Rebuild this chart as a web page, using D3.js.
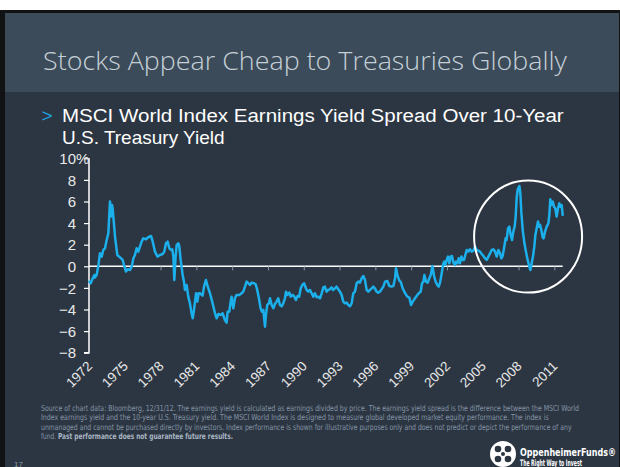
<!DOCTYPE html>
<html><head><meta charset="utf-8">
<script src="https://cdn.jsdelivr.net/npm/d3@7"></script>
<style>html,body{margin:0;padding:0;background:#fff;}svg{display:block;}</style>
</head><body>
<script>
// ---- Data ----
const years = [1972.03,1972.14,1972.31,1972.45,1972.50,1972.64,1972.78,1972.92,1973.06,1973.20,1973.34,1973.48,1973.62,1973.70,1973.76,1973.84,1973.93,1973.98,1974.04,1974.18,1974.37,1974.60,1974.82,1974.93,1975.10,1975.24,1975.44,1975.58,1975.72,1975.85,1975.99,1976.13,1976.27,1976.41,1976.55,1976.78,1976.97,1977.20,1977.34,1977.53,1977.73,1977.95,1978.17,1978.31,1978.45,1978.59,1978.73,1978.87,1978.98,1979.07,1979.15,1979.26,1979.35,1979.49,1979.57,1979.68,1979.85,1979.96,1980.04,1980.18,1980.32,1980.46,1980.60,1980.69,1980.80,1980.97,1981.08,1981.19,1981.30,1981.52,1981.64,1981.80,1981.91,1982.14,1982.36,1982.56,1982.70,1982.84,1983.03,1983.20,1983.39,1983.53,1983.62,1983.76,1983.87,1983.95,1984.09,1984.23,1984.37,1984.60,1984.79,1984.93,1985.07,1985.21,1985.35,1985.49,1985.63,1985.83,1985.96,1986.10,1986.24,1986.38,1986.50,1986.61,1986.75,1986.83,1986.94,1987.08,1987.17,1987.31,1987.45,1987.58,1987.72,1987.86,1988.00,1988.14,1988.28,1988.42,1988.51,1988.62,1988.79,1988.90,1989.07,1989.21,1989.34,1989.48,1989.62,1989.74,1989.88,1990.02,1990.13,1990.24,1990.38,1990.52,1990.66,1990.80,1990.94,1991.08,1991.22,1991.36,1991.50,1991.64,1991.77,1991.91,1992.05,1992.19,1992.33,1992.47,1992.61,1992.75,1992.89,1993.03,1993.17,1993.31,1993.45,1993.59,1993.73,1993.87,1994.01,1994.15,1994.29,1994.43,1994.57,1994.71,1994.85,1994.99,1995.13,1995.27,1995.41,1995.55,1995.69,1995.83,1995.96,1996.10,1996.24,1996.38,1996.67,1996.81,1997.00,1997.17,1997.37,1997.51,1997.65,1997.73,1997.84,1998.01,1998.12,1998.29,1998.49,1998.68,1998.85,1998.99,1999.13,1999.32,1999.52,1999.69,1999.80,1999.91,2000.02,2000.11,2000.24,2000.38,2000.52,2000.64,2000.78,2000.92,2001.05,2001.19,2001.31,2001.42,2001.56,2001.70,2001.78,2001.86,2001.98,2002.09,2002.20,2002.31,2002.42,2002.54,2002.67,2002.76,2002.87,2002.98,2003.09,2003.21,2003.32,2003.43,2003.54,2003.65,2003.79,2003.93,2004.07,2004.21,2004.35,2004.49,2004.63,2004.77,2004.91,2005.05,2005.19,2005.33,2005.47,2005.61,2005.75,2005.89,2006.03,2006.17,2006.31,2006.45,2006.56,2006.67,2006.78,2006.92,2007.00,2007.12,2007.23,2007.34,2007.45,2007.56,2007.67,2007.76,2007.84,2007.93,2008.07,2008.15,2008.23,2008.35,2008.49,2008.62,2008.76,2008.90,2008.99,2009.10,2009.21,2009.32,2009.41,2009.52,2009.63,2009.71,2009.80,2009.91,2010.02,2010.10,2010.22,2010.36,2010.50,2010.58,2010.66,2010.75,2010.86,2010.97,2011.08,2011.19,2011.31,2011.42,2011.50,2011.61,2011.70];
const spread = [-1.42,-1.57,-1.11,-0.80,-1.05,-0.80,0.03,1.20,0.90,1.51,1.67,2.44,3.06,4.75,5.99,4.60,5.68,5.37,4.60,2.75,1.05,0.83,0.59,0.12,-0.49,-0.28,-0.34,-0.03,0.74,1.05,1.67,1.36,1.82,2.28,2.59,2.50,2.69,2.81,2.28,1.36,0.90,1.05,1.14,1.36,2.13,2.28,1.67,1.51,1.57,0.90,-1.27,0.90,1.98,2.13,1.82,0.59,-0.80,-1.42,-2.19,-1.73,-2.81,-3.43,-4.35,-4.81,-4.04,-2.50,-3.27,-2.50,-2.50,-2.72,-1.88,-1.27,-1.73,-2.50,-3.43,-4.35,-4.81,-4.41,-4.50,-4.35,-4.97,-5.22,-4.20,-4.20,-3.27,-2.81,-3.89,-2.96,-2.65,-2.65,-2.50,-2.35,-1.88,-1.42,-1.57,-1.73,-1.51,-1.57,-1.64,-2.19,-2.96,-3.89,-4.20,-4.04,-5.59,-4.50,-3.58,-3.43,-2.96,-3.58,-3.89,-3.49,-3.27,-2.96,-3.58,-3.70,-3.43,-2.96,-2.35,-2.65,-2.44,-2.81,-2.65,-2.81,-3.12,-2.75,-2.81,-2.04,-1.73,-1.57,-1.88,-2.19,-2.35,-2.19,-2.50,-2.81,-2.50,-2.87,-2.81,-2.96,-2.50,-1.95,-1.88,-2.35,-2.19,-2.13,-1.95,-2.19,-2.04,-1.88,-2.13,-2.35,-2.65,-3.27,-3.43,-3.36,-3.58,-3.70,-3.43,-2.50,-2.35,-1.57,-1.42,-1.51,-1.11,-0.90,-1.27,-2.19,-2.35,-2.19,-2.04,-1.88,-2.04,-2.35,-2.44,-2.35,-1.88,-1.42,-1.36,-1.82,-1.88,-1.82,-1.11,-0.19,-0.80,-1.33,-1.42,-2.04,-2.50,-2.81,-2.90,-3.58,-3.27,-2.96,-2.65,-2.44,-2.35,-1.57,-1.42,-0.80,-1.42,-1.51,-1.11,-0.80,0.03,-0.90,-1.42,-1.73,-1.88,-1.51,-0.65,0.28,0.43,0.12,0.59,0.90,0.28,0.90,0.96,0.34,0.12,0.43,0.28,0.74,0.28,0.90,0.59,0.59,1.05,1.51,1.36,1.57,1.36,1.45,1.82,1.51,1.45,1.36,1.14,0.96,0.74,0.59,0.90,1.20,1.51,1.57,1.36,0.90,1.51,1.20,0.74,0.96,1.67,2.59,2.44,3.52,3.67,2.90,2.44,3.21,3.67,4.60,6.30,7.13,7.44,6.76,5.06,3.36,2.13,1.36,0.59,0.00,-0.34,0.28,0.90,1.82,2.90,3.52,4.14,3.67,3.83,3.36,2.69,2.59,3.21,3.67,3.98,4.75,6.20,5.68,5.99,5.52,5.37,4.60,5.37,5.83,5.52,5.68,4.75];
const yTicks = [10, 8, 6, 4, 2, 0, -2, -4, -6, -8];
const xTickYears = [1972, 1975, 1978, 1981, 1984, 1987, 1990, 1993, 1996, 1999, 2002, 2005, 2008, 2011];
const xDomain = [1972, 2011.7];
const yDomain = [-8, 10];
const highlight = [2008.8, 2.75]; // circled region centre (year, value)

const title = "Stocks Appear Cheap to Treasuries Globally";
const subtitleLines = ["MSCI World Index Earnings Yield Spread Over 10-Year", "U.S. Treasury Yield"];
const footLines = [
  "Source of chart data: Bloomberg, 12/31/12. The earnings yield is calculated as earnings divided by price. The earnings yield spread is the difference between the MSCI World",
  "Index earnings yield and the 10-year U.S. Treasury yield. The MSCI World Index is designed to measure global developed market equity performance. The index is",
  "unmanaged and cannot be purchased directly by investors. Index performance is shown for illustrative purposes only and does not predict or depict the performance of any"
];
const footLast = ["fund. ", "Past performance does not guarantee future results."];

// ---- Drawing ----
const W = 620, H = 467;
const svg = d3.select("body").append("svg").attr("width", W).attr("height", H);

svg.append("rect").attr("width", W).attr("height", H).attr("fill", "#ffffff");
svg.append("rect").attr("x", 0).attr("y", 10).attr("width", W).attr("height", H - 10).attr("fill", "#101214");
svg.append("rect").attr("x", 5).attr("y", 13).attr("width", 614).attr("height", 79).attr("fill", "#3b4b59");
svg.append("rect").attr("x", 5).attr("y", 92).attr("width", 614).attr("height", H - 92).attr("fill", "#2c3642");

// helper: fit a text element horizontally to a target width using a scale transform
function fitText(sel, x0, y0, target) {
  const natural = sel.node().getComputedTextLength();
  const sx = natural > 0 ? target / natural : 1;
  sel.attr("x", 0).attr("y", 0).attr("transform", `translate(${x0},${y0}) scale(${sx},1)`);
}

const tt = svg.append("text")
  .attr("font-family", "'Open Sans', 'Noto Sans', sans-serif").attr("font-weight", 300)
  .attr("font-size", 25.5).attr("fill", "#c6d0d8").text(title);
fitText(tt, 43, 70, 524);

const font = "'Liberation Sans', Arial, sans-serif";
svg.append("text").attr("x", 41.5).attr("y", 121.5)
  .attr("font-family", font).attr("font-size", 19)
  .attr("fill", "#1ea2e0").text(">");
subtitleLines.forEach((t, i) => {
  const el = svg.append("text").attr("x", 62).attr("y", 121.5 + i * 22.5)
    .attr("font-family", font).attr("font-size", 19)
    .attr("fill", "#ffffff").text(t);
  if (i === 0) fitText(el, 62, 121.5, 502);
});

const x = d3.scaleLinear().domain(xDomain).range([89, 562.7]);
const y = d3.scaleLinear().domain(yDomain).range([352.7, 158.3]);

const g = svg.append("g");

// y axis
const yAxis = d3.axisLeft(y).tickValues(yTicks).tickSize(5).tickFormat(d => d3.format("d")(d));
const ya = g.append("g").attr("transform", `translate(${x(xDomain[0])},0)`).call(yAxis);
ya.select(".domain").attr("stroke", "#ffffff").attr("stroke-width", 1.5).attr("d", `M-5,${y(-8)}H0V${y(10)}`);
ya.selectAll(".tick line").attr("stroke", "#ffffff").attr("stroke-width", 1.2);
ya.selectAll(".tick text").attr("font-family", font).attr("font-size", 15).attr("fill", "#e8e8e8")
  .attr("x", -13).attr("dy", "0.35em");
ya.selectAll(".tick").filter(d => d === 10).append("text")
  .attr("x", -13).attr("dy", "0.35em").attr("text-anchor", "start")
  .attr("font-family", font).attr("font-size", 15).attr("fill", "#e8e8e8").text("%");

// x zero line with ticks
const xAxis = d3.axisBottom(x).tickValues(xTickYears.slice(1)).tickSize(4).tickFormat("");
const xa = g.append("g").attr("transform", `translate(0,${y(0)})`).call(xAxis);
xa.select(".domain").attr("stroke", "#ffffff").attr("stroke-width", 1.5).attr("d", `M${x(xDomain[0])},0H${x(xDomain[1])}`);
xa.selectAll(".tick line").attr("stroke", "#8d98a3").attr("stroke-width", 1);

// rotated year labels
g.selectAll("text.xl").data(xTickYears).enter().append("text").attr("class", "xl")
  .attr("transform", d => `translate(${x(d) + 4},${367}) rotate(-45)`)
  .attr("text-anchor", "end").attr("font-family", font).attr("font-size", 13.5).attr("fill", "#e8e8e8")
  .text(d => d);

// series line
const pts = years.map((yr, i) => [yr, spread[i]]);
g.append("path").datum(pts)
  .attr("fill", "none").attr("stroke", "#1bb0ec").attr("stroke-width", 2.5)
  .attr("stroke-linejoin", "round").attr("stroke-linecap", "round")
  .attr("d", d3.line().x(d => x(d[0])).y(d => y(d[1])));

// highlight ellipse
g.append("ellipse").attr("cx", x(highlight[0])).attr("cy", y(highlight[1]))
  .attr("rx", 54).attr("ry", 56).attr("fill", "none").attr("stroke", "#ffffff").attr("stroke-width", 2);

// footnote
const footFont = "'Liberation Sans Narrow', 'DejaVu Sans Condensed', 'Liberation Sans', sans-serif";
const footEnds = [579, 549, 572];
const footSize = 8.2;
footLines.forEach((t, i) => {
  const el = svg.append("text")
    .attr("font-family", footFont).attr("font-size", footSize).attr("fill", "#8494a6").text(t);
  fitText(el, 41, 410.5 + i * 9.5, footEnds[i] - 41);
});
const fl = svg.append("text").attr("font-family", footFont).attr("font-size", footSize);
fl.append("tspan").attr("fill", "#8494a6").text(footLast[0]);
fl.append("tspan").attr("fill", "#aab6c4").attr("font-weight", "bold").text(footLast[1]);
fitText(fl, 41, 439, 192);

// page number
svg.append("text").attr("x", 14).attr("y", 466.5).attr("font-family", font).attr("font-size", 8)
  .attr("fill", "#8a96a2").text("17");

// logo
const lg = svg.append("g").attr("transform", "translate(503,454)");
lg.append("circle").attr("r", 13).attr("fill", "#ffffff");
[[-5, -5], [5, -5], [-5, 5], [5, 5]].forEach(p => {
  lg.append("circle").attr("cx", p[0]).attr("cy", p[1]).attr("r", 3.3).attr("fill", "#2c3642");
});
lg.append("circle").attr("r", 2).attr("fill", "#2c3642");
const l1 = svg.append("text").attr("font-family", footFont).attr("font-weight", "bold")
  .attr("font-size", 11).attr("fill", "#ffffff").text("OppenheimerFunds\u00AE");
fitText(l1, 520, 456, 96);
const l2 = svg.append("text").attr("font-family", footFont).attr("font-weight", "bold")
  .attr("font-size", 9).attr("fill", "#ffffff").text("The Right Way to Invest");
fitText(l2, 520, 466, 62);
// right edge
svg.append("rect").attr("x", 619).attr("y", 10).attr("width", 1).attr("height", H - 10).attr("fill", "#101214");
</script>
</body></html>
